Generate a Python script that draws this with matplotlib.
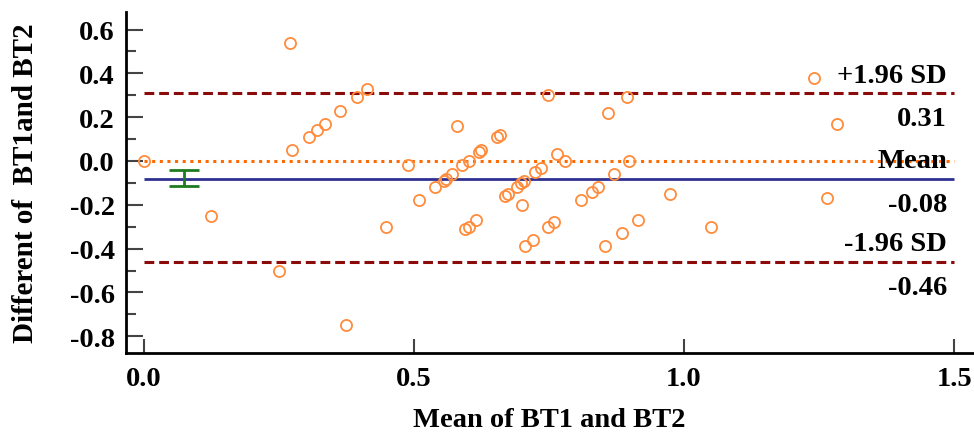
import numpy as np
import matplotlib
matplotlib.use("Agg")
import matplotlib.pyplot as plt
from matplotlib.ticker import MultipleLocator

# Bland-Altman data: mean of the two readings vs their difference
mean_bt = [0.0, 0.270, 0.275, 0.306, 0.320, 0.335, 0.364, 0.394, 0.414, 0.489,
           0.125, 0.250, 0.375, 0.449, 0.510, 0.539, 0.556, 0.560, 0.570, 0.589,
           0.601, 0.580, 0.620, 0.625, 0.654, 0.660, 0.749, 0.764, 0.780, 0.725,
           0.735, 0.704, 0.698, 0.690, 0.674, 0.669, 0.700, 0.809, 0.830, 0.840,
           0.859, 0.894, 0.899, 0.870, 0.974, 0.595, 0.601, 0.615, 0.705, 0.720,
           0.749, 0.760, 0.854, 0.885, 0.914, 1.240, 1.284, 1.265, 1.050]
diff_bt = [0.0, 0.54, 0.05, 0.11, 0.14, 0.17, 0.23, 0.29, 0.33, -0.02,
           -0.25, -0.50, -0.75, -0.30, -0.18, -0.12, -0.09, -0.08, -0.06, -0.02,
           0.0, 0.16, 0.04, 0.05, 0.11, 0.12, 0.30, 0.03, 0.0, -0.05,
           -0.03, -0.09, -0.10, -0.12, -0.15, -0.16, -0.20, -0.18, -0.14, -0.12,
           0.22, 0.29, 0.0, -0.06, -0.15, -0.31, -0.30, -0.27, -0.39, -0.36,
           -0.30, -0.28, -0.39, -0.33, -0.27, 0.38, 0.17, -0.17, -0.30]

upper_loa = 0.31
mean_diff = -0.08
lower_loa = -0.46
ci_x = 0.074
ci_low, ci_high = -0.114, -0.042

plt.rcParams['font.family'] = ['Liberation Serif', 'DejaVu Serif']
plt.rcParams['font.weight'] = 'bold'

fs = 20.5

fig = plt.figure(figsize=(9.74, 4.35), dpi=100)
ax = fig.add_axes([0.1294, 0.186, 0.8696, 0.784])

x0, x1 = 0.0, 1.5
ax.hlines(upper_loa, x0, x1, colors='#8B0A0A', linestyles=(0, (3.2, 1.6)), lw=2.2, zorder=2)
ax.hlines(lower_loa, x0, x1, colors='#8B0A0A', linestyles=(0, (3.2, 1.6)), lw=2.2, zorder=2)
ax.hlines(mean_diff, x0, x1, colors='#2E3192', lw=2.0, zorder=2)
ax.hlines(0.0, x0, x1, colors='#FF6A00', linestyles=(0, (1, 1.5)), lw=2.2, zorder=2)

# 95% CI of the mean difference
ax.vlines(ci_x, ci_low, ci_high, colors='#1E7B1E', lw=2.0, zorder=3)
ax.hlines([ci_low, ci_high], ci_x - 0.028, ci_x + 0.028, colors='#1E7B1E', lw=2.0, zorder=3)

ax.plot(mean_bt, diff_bt, 'o', ms=8, mfc='none', mec='#FF8C3C', mew=1.3, zorder=4)

lab = dict(ha='right', fontsize=fs, fontweight='bold')
xr = 1.487
for yv, name in [(upper_loa, '+1.96 SD'), (mean_diff, 'Mean'), (lower_loa, '-1.96 SD')]:
    ax.text(xr, yv + 0.025, name, va='bottom', **lab)
    ax.text(xr, yv - 0.06, f'{yv:.2f}', va='top', **lab)

ax.set_xlim(-0.033, 1.535)
ax.set_ylim(-0.877, 0.68)
ax.xaxis.set_major_locator(MultipleLocator(0.5))
ax.yaxis.set_major_locator(MultipleLocator(0.2))
ax.yaxis.set_minor_locator(MultipleLocator(0.1))
ax.xaxis.set_major_formatter(plt.FormatStrFormatter('%.1f'))
ax.yaxis.set_major_formatter(plt.FormatStrFormatter('%.1f'))

for s in ['top', 'right']:
    ax.spines[s].set_visible(False)
for s in ['left', 'bottom']:
    ax.spines[s].set_linewidth(2.0)
    ax.spines[s].set_color('black')

ax.tick_params(axis='y', which='major', direction='in', length=12, width=1.5,
               color='#444444', labelsize=fs, pad=8)
ax.tick_params(axis='y', which='minor', direction='in', length=7, width=1.5, color='#444444')
ax.tick_params(axis='x', which='major', direction='in', length=10, width=1.5,
               color='#444444', labelsize=fs, pad=9)
for t in ax.get_xticklabels() + ax.get_yticklabels():
    t.set_fontweight('bold')

ax.set_xlabel('Mean of BT1 and BT2', fontsize=fs, fontweight='bold', labelpad=12)
ax.set_ylabel('Different of  BT1and BT2', fontsize=21, fontweight='bold', labelpad=22)

fig.savefig('out.png', dpi=100)
